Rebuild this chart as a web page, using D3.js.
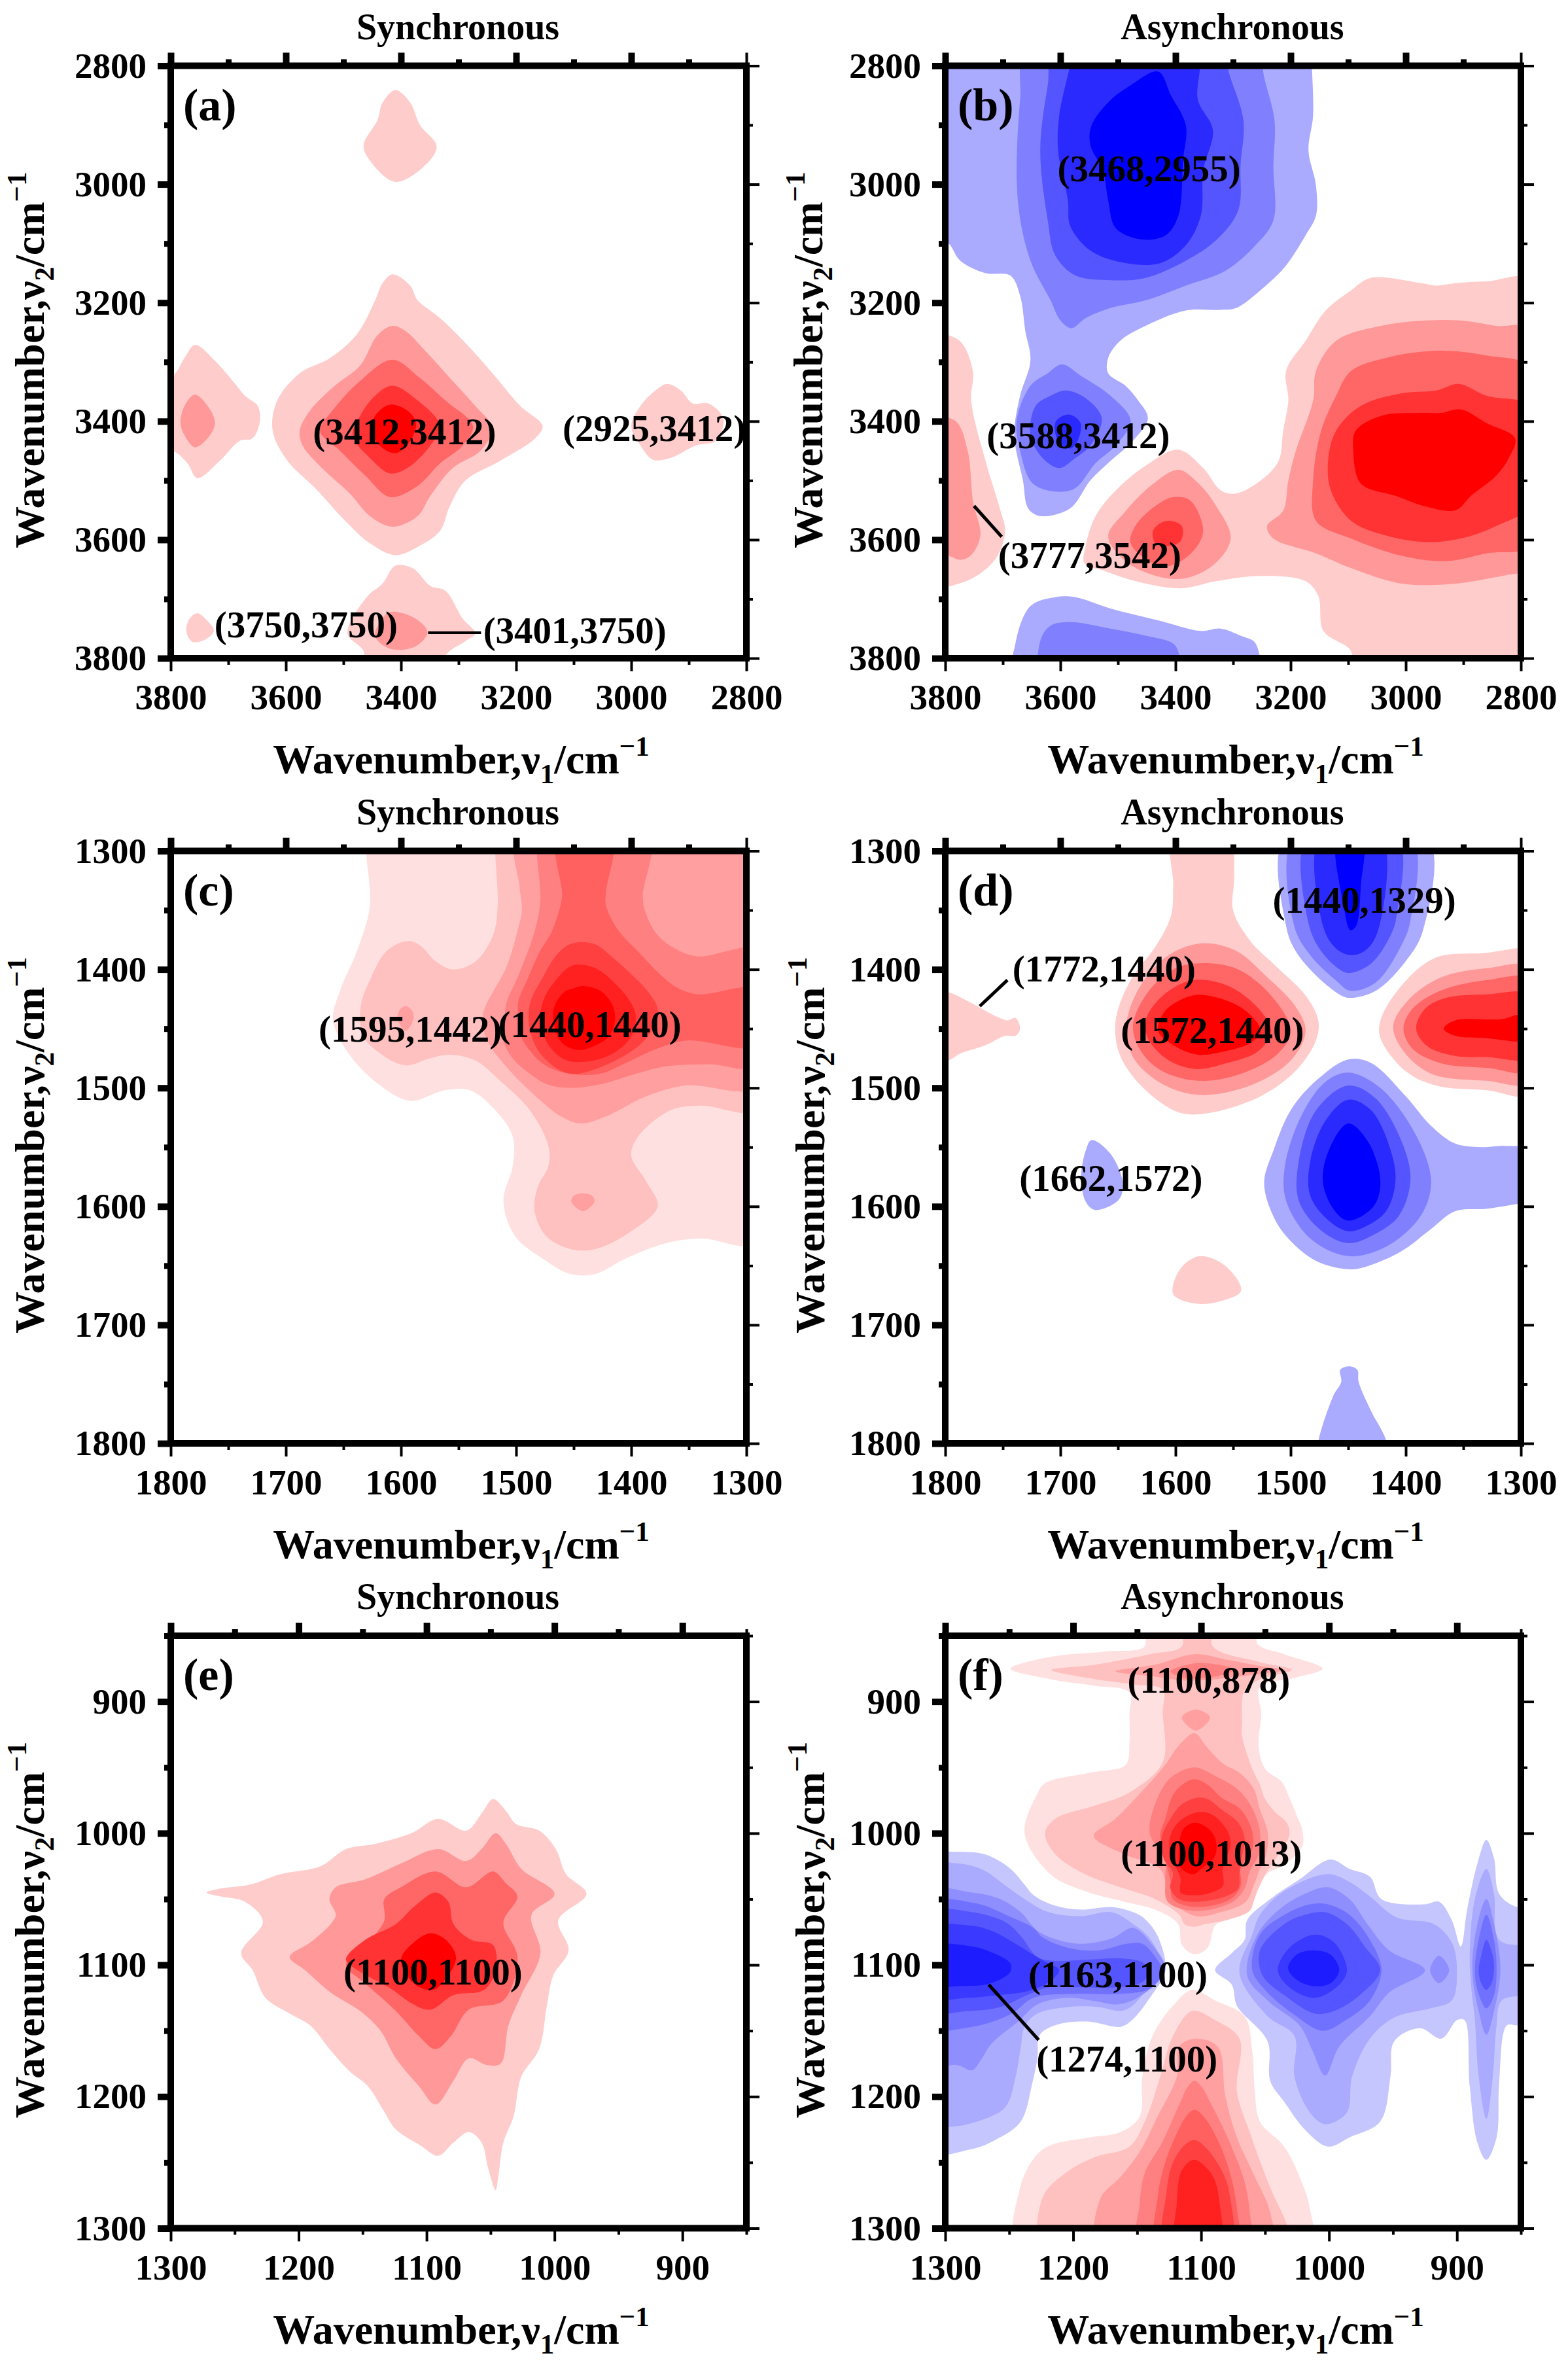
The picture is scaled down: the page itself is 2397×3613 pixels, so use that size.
<!DOCTYPE html>
<html><head><meta charset="utf-8">
<script src="https://cdn.jsdelivr.net/npm/d3@7"></script>
<style>html,body{margin:0;padding:0;background:#fff}svg{display:block}text{font-family:"Liberation Serif","Times New Roman",serif;font-weight:bold;fill:#000}</style>
</head><body><div id="c"></div>
<script>
// Contour outlines, in wavenumber units [v1, v2]; levels go from the outermost band inward.
const RED5=["#ffcccc","#ff9999","#ff6666","#ff3333","#ff0000"];
const BLUE5=["#aaaaff","#8080ff","#5555ff","#2a2aff","#0000ff"];
const RED8=["#ffe0e0","#ffc0c0","#ff9f9f","#ff8080","#ff6060","#ff4040","#ff2020","#ff0000"];
const BLUE8=["#c6c6ff","#aaaaff","#8e8eff","#7171ff","#5555ff","#3939ff","#1c1cff"];

// (a)
const a_top1=[[3410,2841],[3384,2862],[3367,2900],[3338,2936],[3358,2968],[3410,2996],[3454,2960],[3465,2934],[3441,2892],[3432,2862]];
const a_mid1=[[3415,3152],[3384,3171],[3371,3196],[3332,3226],[3288,3268],[3241,3319],[3193,3374],[3154,3408],[3167,3429],[3228,3467],[3288,3500],[3315,3543],[3332,3585],[3367,3610],[3410,3626],[3454,3606],[3497,3568],[3549,3513],[3597,3467],[3623,3416],[3615,3365],[3576,3319],[3523,3293],[3475,3251],[3445,3196],[3432,3167]];
const a_mid2=[[3415,3239],[3393,3247],[3358,3281],[3315,3327],[3271,3374],[3241,3412],[3262,3450],[3310,3479],[3349,3526],[3371,3560],[3415,3578],[3454,3560],[3489,3522],[3532,3484],[3571,3441],[3576,3416],[3558,3382],[3515,3340],[3471,3306],[3441,3255]];
const a_mid3=[[3415,3296],[3367,3327],[3323,3365],[3275,3408],[3293,3441],[3332,3471],[3371,3509],[3419,3528],[3462,3492],[3506,3450],[3541,3416],[3519,3382],[3471,3332]];
const a_mid4=[[3415,3340],[3371,3365],[3332,3408],[3349,3441],[3389,3479],[3419,3488],[3454,3462],[3484,3424],[3471,3391],[3445,3357]];
const a_mid5=[[3419,3372],[3389,3382],[3374,3403],[3384,3433],[3410,3454],[3441,3437],[3452,3408],[3441,3386]];
const a_left1=[[3758,3271],[3723,3298],[3689,3336],[3671,3357],[3649,3374],[3645,3399],[3658,3429],[3680,3433],[3715,3467],[3754,3496],[3771,3471],[3797,3450],[3840,3450],[3840,3323],[3797,3323],[3776,3293]];
const a_left2=[[3758,3355],[3736,3374],[3723,3403],[3736,3429],[3758,3444],[3776,3424],[3783,3403],[3776,3374]];
const a_right1=[[2938,3337],[2914,3348],[2893,3370],[2866,3370],[2840,3395],[2853,3433],[2888,3441],[2932,3462],[2962,3465],[2984,3441],[3000,3408],[2984,3374],[2958,3348]];
const a_bot1=[[3410,3644],[3380,3648],[3349,3678],[3323,3686],[3293,3733],[3271,3758],[3288,3771],[3323,3796],[3323,3830],[3462,3830],[3465,3788],[3493,3758],[3458,3695],[3432,3674]];
const a_bot2=[[3419,3722],[3375,3733],[3354,3756],[3375,3780],[3419,3784],[3445,3763],[3436,3738]];
const a_dot1=[[3754,3724],[3736,3737],[3725,3754],[3741,3769],[3763,3772],[3773,3754],[3767,3733]];

// (b)
const b_blue1=[[3826,2774],[3163,2774],[3163,2799],[3161,2884],[3169,2943],[3156,3002],[3156,3053],[3174,3086],[3208,3137],[3243,3171],[3295,3209],[3321,3212],[3382,3213],[3452,3239],[3496,3264],[3517,3293],[3517,3319],[3487,3340],[3465,3365],[3448,3395],[3474,3433],[3513,3467],[3548,3500],[3583,3547],[3635,3560],[3656,3547],[3665,3500],[3680,3424],[3670,3357],[3652,3298],[3661,3247],[3670,3188],[3687,3154],[3730,3150],[3774,3129],[3796,3099],[3826,3099]];
const b_blue2=[[3656,2774],[3248,2774],[3248,2808],[3228,2892],[3230,2968],[3230,3061],[3261,3103],[3313,3146],[3382,3171],[3452,3196],[3513,3209],[3556,3226],[3581,3243],[3600,3230],[3617,3196],[3652,3129],[3674,3027],[3670,2858]];
const b_blue3=[[3609,2774],[3313,2774],[3308,2808],[3282,2892],[3287,2968],[3291,3044],[3330,3095],[3382,3129],[3452,3158],[3513,3162],[3574,3154],[3609,3120],[3622,3061],[3635,2943],[3622,2833]];
const b_blue4=[[3578,2774],[3365,2774],[3361,2858],[3335,2909],[3352,2977],[3356,3053],[3382,3103],[3426,3133],[3487,3133],[3548,3112],[3583,3070],[3587,3027],[3604,2943],[3602,2884],[3583,2799]];
const b_blue5=[[3430,2810],[3408,2850],[3382,2901],[3387,2960],[3395,3053],[3417,3086],[3461,3093],[3504,3074],[3517,3027],[3526,2977],[3548,2934],[3546,2901],[3513,2858],[3478,2833]];
const b_lobe2=[[3597,3304],[3565,3323],[3513,3357],[3478,3399],[3504,3441],[3539,3471],[3574,3513],[3604,3519],[3648,3505],[3670,3450],[3676,3399],[3652,3340],[3622,3319]];
const b_lobe3=[[3591,3348],[3556,3361],[3528,3395],[3548,3441],[3574,3462],[3602,3479],[3631,3462],[3652,3424],[3643,3374],[3617,3357]];
const b_lobe4=[[3583,3389],[3565,3403],[3570,3433],[3583,3446],[3604,3433],[3609,3403],[3598,3392]];
const b_left1=[[3835,3260],[3778,3262],[3752,3315],[3755,3365],[3730,3467],[3704,3551],[3696,3585],[3709,3627],[3739,3657],[3783,3676],[3835,3678]];
const b_left2=[[3835,3399],[3783,3399],[3761,3450],[3752,3534],[3739,3593],[3756,3627],[3774,3634],[3796,3627],[3835,3627]];
const b_red1=[[2773,3164],[2860,3164],[2913,3167],[2947,3171],[2973,3167],[3061,3158],[3095,3179],[3139,3213],[3174,3264],[3208,3315],[3204,3365],[3213,3416],[3221,3467],[3252,3500],[3295,3522],[3321,3517],[3352,3479],[3395,3448],[3452,3475],[3504,3517],[3539,3560],[3556,3610],[3558,3640],[3522,3653],[3469,3670],[3391,3682],[3330,3670],[3252,3661],[3174,3670],[3152,3695],[3143,3754],[3095,3788],[3095,3830],[2773,3830]];
const b_red2=[[2773,3247],[2843,3239],[2904,3230],[2965,3230],[3043,3239],[3121,3264],[3156,3315],[3161,3365],[3191,3450],[3204,3500],[3213,3551],[3241,3577],[3230,3598],[3156,3623],[3095,3648],[3008,3674],[2913,3674],[2804,3657],[2773,3657]];
const b_red3=[[2773,3315],[2860,3289],[2947,3281],[3034,3293],[3095,3315],[3121,3357],[3147,3416],[3161,3500],[3156,3568],[3095,3598],[3008,3627],[2930,3636],[2860,3623],[2773,3606]];
const b_red4=[[2773,3378],[2860,3357],[2908,3337],[2947,3348],[3008,3353],[3078,3374],[3121,3416],[3135,3467],[3130,3517],[3095,3568],[3034,3593],[2965,3604],[2904,3598],[2843,3577],[2773,3534]];
const b_red5=[[2904,3380],[2860,3403],[2810,3429],[2821,3462],[2843,3492],[2887,3526],[2913,3550],[2965,3544],[3017,3526],[3078,3505],[3091,3450],[3087,3416],[3043,3391],[2973,3386],[2939,3386]];
const b_peak2=[[3395,3482],[3361,3504],[3330,3542],[3304,3597],[3330,3639],[3382,3665],[3434,3661],[3487,3636],[3517,3594],[3487,3552],[3443,3509]];
const b_peak3=[[3404,3528],[3374,3534],[3352,3585],[3369,3619],[3409,3644],[3439,3640],[3478,3606],[3470,3577],[3435,3543]];
const b_peak4=[[3409,3568],[3389,3577],[3391,3602],[3409,3610],[3435,3606],[3439,3585],[3426,3572]];
const b_bot1=[[3609,3697],[3574,3697],[3513,3716],[3426,3737],[3356,3754],[3322,3750],[3287,3762],[3261,3775],[3261,3830],[3678,3830],[3678,3775],[3652,3712]];
const b_bot2=[[3583,3739],[3513,3750],[3452,3762],[3400,3779],[3400,3830],[3630,3830],[3635,3771],[3617,3745]];

// (c)
const c_l1=[[1630,1285],[1285,1285],[1285,1629],[1340,1627],[1370,1631],[1405,1644],[1431,1657],[1453,1657],[1474,1646],[1501,1625],[1511,1595],[1503,1566],[1503,1541],[1518,1519],[1540,1502],[1562,1502],[1592,1511],[1618,1498],[1644,1473],[1659,1443],[1653,1418],[1638,1384],[1627,1346],[1630,1304]];
const c_l2=[[1518,1285],[1518,1304],[1516,1346],[1520,1371],[1535,1393],[1555,1400],[1570,1393],[1583,1380],[1594,1376],[1612,1384],[1627,1409],[1635,1431],[1633,1456],[1618,1471],[1596,1481],[1575,1475],[1557,1472],[1535,1477],[1514,1494],[1488,1519],[1472,1549],[1472,1566],[1481,1583],[1484,1604],[1474,1625],[1453,1636],[1431,1636],[1400,1621],[1377,1600],[1387,1579],[1400,1557],[1394,1541],[1366,1519],[1340,1515],[1285,1517],[1285,1285]];
const c_dotA=[[1596,1431],[1591,1434],[1589,1441],[1596,1452],[1603,1441],[1601,1434]];
const c_dotB=[[1442,1589],[1434,1591],[1432,1596],[1442,1604],[1452,1596],[1450,1591]];
const c_l3=[[1498,1285],[1497,1330],[1495,1350],[1499,1368],[1508,1397],[1529,1439],[1525,1460],[1505,1486],[1483,1507],[1461,1524],[1444,1530],[1422,1524],[1387,1507],[1353,1498],[1285,1497],[1285,1285]];
const c_l4=[[1482,1285],[1482,1302],[1479,1342],[1484,1368],[1498,1405],[1508,1427],[1510,1440],[1511,1460],[1503,1475],[1488,1488],[1473,1497],[1452,1500],[1427,1497],[1399,1489],[1371,1482],[1333,1480],[1285,1481],[1285,1384],[1342,1389],[1361,1383],[1378,1370],[1388,1351],[1390,1338],[1385,1285]];
const c_l5=[[1464,1285],[1460,1337],[1462,1348],[1469,1368],[1480,1386],[1490,1408],[1498,1427],[1498,1441],[1496,1456],[1486,1471],[1473,1482],[1454,1488],[1427,1488],[1405,1479],[1378,1467],[1352,1460],[1285,1464],[1285,1417],[1342,1421],[1359,1416],[1374,1405],[1393,1386],[1412,1366],[1422,1346],[1422,1335],[1417,1285]];
const c_l6=[[1446,1377],[1431,1379],[1416,1390],[1399,1405],[1386,1418],[1377,1434],[1382,1451],[1393,1464],[1416,1478],[1446,1488],[1460,1486],[1479,1471],[1488,1451],[1488,1429],[1477,1407],[1465,1388],[1456,1380]];
const c_l7=[[1444,1396],[1431,1399],[1416,1410],[1401,1427],[1396,1440],[1401,1458],[1418,1472],[1441,1478],[1458,1476],[1473,1462],[1479,1441],[1475,1423],[1462,1405],[1452,1397]];
const c_l8=[[1443,1414],[1427,1418],[1417,1429],[1414,1441],[1419,1456],[1433,1465],[1446,1468],[1460,1462],[1467,1447],[1467,1432],[1458,1419],[1450,1416]];

// (d)
const d_top1=[[1602,1287],[1602,1329],[1604,1355],[1617,1380],[1639,1409],[1652,1443],[1648,1473],[1626,1502],[1596,1521],[1570,1521],[1526,1507],[1496,1486],[1478,1460],[1476,1443],[1487,1422],[1513,1397],[1535,1376],[1550,1350],[1549,1321],[1554,1287]];
const d_red2=[[1578,1378],[1548,1384],[1522,1405],[1496,1431],[1487,1452],[1500,1477],[1535,1498],[1578,1506],[1609,1498],[1635,1477],[1643,1452],[1635,1422],[1609,1390]];
const d_red3=[[1583,1395],[1548,1399],[1517,1422],[1500,1452],[1511,1471],[1543,1488],[1580,1494],[1613,1485],[1630,1469],[1637,1448],[1626,1422],[1604,1401]];
const d_red4=[[1585,1409],[1554,1414],[1528,1433],[1517,1452],[1528,1469],[1559,1480],[1583,1484],[1607,1476],[1624,1458],[1626,1443],[1611,1422]];
const d_red5=[[1585,1422],[1563,1424],[1539,1435],[1526,1452],[1535,1462],[1557,1469],[1580,1472],[1600,1465],[1615,1452],[1609,1435]];
const d_left1=[[1817,1418],[1798,1419],[1778,1428],[1757,1439],[1746,1443],[1739,1441],[1735,1450],[1739,1456],[1748,1456],[1765,1464],[1787,1471],[1798,1477],[1817,1477]];
const d_up1=[[1504,1287],[1504,1363],[1496,1384],[1478,1405],[1456,1422],[1448,1424],[1426,1418],[1400,1393],[1385,1367],[1382,1287]];
const d_up2=[[1496,1287],[1497,1363],[1483,1388],[1461,1409],[1448,1418],[1426,1411],[1404,1380],[1396,1359],[1396,1287]];
const d_up3=[[1485,1287],[1485,1359],[1474,1384],[1456,1401],[1448,1403],[1430,1395],[1413,1371],[1408,1355],[1408,1287]];
const d_up4=[[1474,1287],[1472,1363],[1461,1382],[1448,1388],[1435,1384],[1424,1367],[1422,1287]];
const d_up5=[[1459,1287],[1454,1346],[1448,1367],[1443,1363],[1439,1329],[1438,1287]];
const d_right1=[[1287,1382],[1302,1382],[1330,1386],[1374,1390],[1404,1414],[1422,1443],[1422,1458],[1400,1486],[1374,1498],[1330,1502],[1287,1505]];
const d_right2=[[1287,1399],[1330,1399],[1370,1407],[1398,1426],[1411,1448],[1402,1469],[1378,1488],[1330,1494],[1287,1495]];
const d_right3=[[1287,1409],[1330,1409],[1370,1418],[1394,1433],[1402,1450],[1394,1467],[1370,1479],[1330,1483],[1287,1485]];
const d_right4=[[1287,1422],[1330,1421],[1365,1424],[1383,1433],[1391,1450],[1381,1465],[1357,1473],[1330,1474],[1287,1474]];
const d_right5=[[1287,1437],[1302,1438],[1317,1442],[1357,1443],[1367,1450],[1357,1456],[1330,1458],[1302,1461],[1287,1461]];
const d_low1=[[1450,1476],[1430,1479],[1400,1507],[1378,1532],[1357,1547],[1335,1550],[1313,1549],[1287,1553],[1287,1595],[1304,1598],[1330,1602],[1357,1604],[1378,1619],[1404,1638],[1435,1651],[1450,1653],[1478,1646],[1504,1625],[1517,1604],[1523,1579],[1515,1553],[1500,1519],[1478,1494]];
const d_low2=[[1450,1487],[1422,1500],[1391,1540],[1378,1579],[1387,1608],[1417,1634],[1450,1642],[1483,1627],[1504,1595],[1505,1566],[1491,1524],[1470,1495]];
const d_low3=[[1450,1498],[1426,1509],[1402,1549],[1396,1579],[1406,1608],[1426,1623],[1450,1631],[1474,1620],[1493,1595],[1493,1562],[1478,1519]];
const d_low4=[[1450,1510],[1430,1519],[1413,1553],[1409,1579],[1417,1604],[1435,1617],[1450,1621],[1467,1612],[1483,1591],[1483,1562],[1470,1528]];
const d_low5=[[1450,1530],[1433,1545],[1422,1579],[1428,1600],[1450,1612],[1463,1602],[1472,1579],[1467,1553]];
const d_small=[[1673,1544],[1657,1555],[1646,1579],[1649,1594],[1670,1603],[1678,1596],[1682,1575],[1678,1553]];
const d_spot=[[1579,1642],[1557,1650],[1543,1671],[1561,1680],[1583,1682],[1602,1674],[1596,1653]];
const d_bot=[[1449,1735],[1442,1738],[1441,1748],[1430,1773],[1417,1798],[1417,1815],[1478,1815],[1476,1798],[1463,1760],[1456,1748],[1457,1738]];

// (e)
const e_l1=[[1048,974],[1038,983],[1030,993],[1012,998],[999,1012],[991,1031],[975,1046],[997,1066],[989,1089],[1001,1108],[1006,1131],[1012,1164],[1026,1185],[1032,1215],[1040,1235],[1044,1261],[1046,1271],[1052,1254],[1057,1235],[1067,1227],[1079,1235],[1091,1245],[1105,1237],[1124,1225],[1134,1210],[1146,1192],[1160,1181],[1175,1165],[1191,1146],[1207,1137],[1226,1125],[1236,1104],[1245,1091],[1228,1067],[1242,1052],[1261,1048],[1272,1045],[1261,1042],[1238,1039],[1214,1031],[1183,1025],[1163,1012],[1140,1008],[1112,1000],[1091,989],[1069,998],[1057,985]];
const e_l2=[[1046,1000],[1038,1008],[1026,1027],[1000,1046],[1018,1062],[1011,1091],[1026,1123],[1036,1146],[1042,1175],[1053,1176],[1067,1171],[1079,1188],[1093,1206],[1106,1192],[1124,1171],[1136,1150],[1152,1135],[1175,1121],[1195,1104],[1207,1094],[1191,1083],[1175,1069],[1171,1062],[1176,1050],[1171,1041],[1148,1035],[1120,1023],[1091,1012],[1069,1021],[1057,1012]];
const e_l3=[[1093,1029],[1069,1041],[1048,1029],[1038,1038],[1029,1048],[1040,1068],[1029,1094],[1040,1127],[1067,1134],[1081,1154],[1093,1164],[1106,1154],[1124,1135],[1148,1114],[1163,1100],[1144,1081],[1133,1066],[1133,1050],[1120,1041]];
const e_l4=[[1093,1045],[1083,1052],[1079,1069],[1065,1081],[1048,1085],[1046,1104],[1055,1119],[1079,1123],[1097,1134],[1112,1129],[1128,1118],[1154,1104],[1163,1096],[1148,1081],[1124,1069],[1110,1056]];
const e_l5=[[1097,1076],[1085,1081],[1077,1094],[1083,1108],[1095,1119],[1110,1114],[1120,1096],[1110,1083]];

// (f) red
const f_top1=[[1144,839],[1056,839],[1056,856],[1035,864],[1005,875],[1027,882],[1054,889],[1053,910],[1055,934],[1050,951],[1037,961],[1031,973],[1025,987],[1021,997],[1021,1010],[1035,1024],[1049,1031],[1055,1042],[1064,1055],[1080,1065],[1089,1070],[1095,1087],[1105,1092],[1115,1085],[1118,1069],[1136,1058],[1160,1052],[1191,1044],[1218,1031],[1238,1000],[1228,970],[1222,962],[1187,954],[1159,948],[1156,931],[1156,910],[1156,893],[1183,888],[1218,883],[1249,875],[1218,866],[1175,862],[1144,858]];
const f_top2=[[1115,839],[1091,839],[1091,858],[1054,870],[1029,876],[1054,883],[1066,891],[1068,916],[1068,926],[1060,951],[1054,963],[1050,974],[1042,984],[1033,992],[1031,1001],[1040,1017],[1047,1027],[1054,1039],[1059,1052],[1062,1059],[1080,1066],[1097,1069],[1105,1071],[1113,1069],[1117,1062],[1136,1050],[1160,1042],[1191,1031],[1214,1016],[1222,1000],[1214,989],[1183,979],[1156,969],[1130,946],[1130,908],[1130,891],[1152,887],[1183,883],[1217,876],[1183,872],[1140,864],[1115,858]];
const f_strip3=[[1105,864],[1081,868],[1054,873],[1035,876],[1062,880],[1089,883],[1113,884],[1136,881],[1167,877],[1136,872]];
const f_strip4=[[1105,871],[1081,873],[1074,876],[1089,881],[1113,882],[1124,877]];
const f_diamond=[[1115,912],[1104,906],[1093,912],[1104,922]];
const f_top3=[[1105,924],[1096,934],[1083,947],[1070,954],[1059,966],[1054,982],[1048,999],[1049,1016],[1054,1027],[1059,1040],[1065,1052],[1085,1060],[1104,1063],[1124,1050],[1132,1027],[1160,1016],[1184,1002],[1167,989],[1148,970],[1128,948],[1117,933]];
const f_top4=[[1105,950],[1090,956],[1071,967],[1060,981],[1054,999],[1055,1016],[1062,1029],[1066,1042],[1075,1052],[1104,1059],[1126,1052],[1128,1034],[1128,1018],[1140,1001],[1136,978],[1124,958]];
const f_top5=[[1105,959],[1095,963],[1084,973],[1069,982],[1060,999],[1060,1012],[1069,1026],[1069,1040],[1077,1050],[1104,1056],[1122,1050],[1124,1036],[1130,1012],[1132,1001],[1128,989],[1122,971],[1113,962]];
const f_top6=[[1103,973],[1095,974],[1084,982],[1071,992],[1066,1004],[1069,1022],[1070,1029],[1071,1042],[1081,1048],[1103,1052],[1117,1050],[1124,1042],[1122,1030],[1129,1020],[1131,1004],[1124,989],[1115,978]];
const f_top7=[[1103,984],[1091,986],[1079,999],[1077,1009],[1083,1026],[1083,1040],[1092,1045],[1105,1047],[1116,1045],[1116,1035],[1118,1029],[1124,1017],[1124,1002],[1117,991]];
const f_top8=[[1105,992],[1095,996],[1089,1004],[1089,1017],[1100,1027],[1106,1031],[1116,1026],[1117,1009],[1114,997]];
const f_bot1=[[1242,1319],[1242,1271],[1230,1246],[1218,1237],[1187,1231],[1163,1227],[1148,1215],[1146,1185],[1138,1154],[1122,1131],[1107,1119],[1089,1127],[1066,1139],[1060,1165],[1058,1196],[1054,1219],[1035,1238],[1023,1261],[1015,1285],[1015,1319]];
const f_bot2=[[1222,1319],[1224,1277],[1206,1258],[1183,1246],[1156,1238],[1144,1219],[1132,1185],[1122,1154],[1107,1135],[1089,1142],[1070,1156],[1072,1196],[1062,1227],[1046,1269],[1032,1300],[1029,1319]];
const f_bot3=[[1179,1319],[1179,1278],[1163,1261],[1148,1242],[1134,1215],[1119,1185],[1117,1162],[1105,1156],[1087,1162],[1081,1200],[1072,1231],[1058,1261],[1046,1288],[1046,1319]];
const f_bot4=[[1148,1319],[1148,1281],[1144,1258],[1130,1234],[1117,1206],[1110,1192],[1105,1188],[1100,1192],[1092,1206],[1078,1234],[1066,1265],[1062,1288],[1062,1319]];
const f_bot5=[[1134,1319],[1134,1277],[1128,1250],[1118,1226],[1110,1213],[1105,1210],[1099,1214],[1089,1229],[1078,1256],[1072,1285],[1072,1319]];
const f_bot6=[[1128,1319],[1127,1273],[1122,1250],[1112,1236],[1105,1233],[1097,1238],[1084,1256],[1078,1273],[1078,1319]];
const f_bot7=[[1119,1319],[1119,1281],[1116,1258],[1110,1250],[1105,1248],[1098,1252],[1090,1262],[1085,1285],[1085,1319]];
// (f) blue, left arm
const f_w1=[[1320,1014],[1296,1014],[1269,1016],[1249,1027],[1238,1039],[1231,1047],[1214,1055],[1194,1058],[1170,1056],[1153,1060],[1144,1065],[1134,1078],[1128,1104],[1140,1125],[1154,1142],[1163,1147],[1189,1143],[1211,1145],[1226,1153],[1228,1171],[1232,1190],[1241,1219],[1261,1233],[1280,1240],[1320,1241]];
const f_w2=[[1320,1025],[1290,1023],[1270,1028],[1254,1039],[1238,1050],[1219,1060],[1194,1063],[1170,1060],[1153,1069],[1140,1080],[1130,1104],[1145,1122],[1155,1132],[1163,1135],[1180,1132],[1204,1132],[1228,1137],[1238,1147],[1241,1163],[1245,1185],[1253,1208],[1275,1219],[1296,1223],[1320,1222]];
const f_w3=[[1320,1045],[1279,1045],[1257,1050],[1241,1060],[1228,1074],[1212,1081],[1194,1084],[1170,1080],[1153,1072],[1138,1085],[1128,1104],[1148,1124],[1165,1130],[1180,1128],[1204,1125],[1228,1130],[1243,1143],[1264,1160],[1272,1172],[1279,1180],[1291,1176],[1320,1178]];
const f_w4=[[1320,1054],[1277,1053],[1248,1064],[1231,1072],[1224,1079],[1204,1087],[1180,1089],[1158,1084],[1146,1084],[1135,1095],[1130,1105],[1140,1118],[1163,1122],[1197,1122],[1231,1125],[1248,1137],[1279,1147],[1320,1146]];
const f_w5=[[1320,1061],[1279,1060],[1252,1068],[1241,1078],[1228,1094],[1214,1097],[1189,1096],[1163,1095],[1146,1098],[1140,1105],[1146,1113],[1166,1117],[1194,1117],[1219,1117],[1236,1123],[1257,1132],[1282,1135],[1320,1134]];
const f_w6=[[1320,1073],[1281,1070],[1264,1074],[1245,1084],[1235,1090],[1223,1097],[1211,1104],[1219,1113],[1236,1120],[1259,1123],[1282,1125],[1320,1124]];
const f_w7=[[1320,1087],[1279,1086],[1260,1092],[1249,1099],[1249,1105],[1255,1110],[1269,1115],[1289,1116],[1320,1116]];
// (f) blue, right arm and the column near 877
const f_e1=[[999,1020],[984,1027],[968,1033],[959,1050],[925,1054],[914,1052],[904,1066],[897,1086],[892,1058],[884,1023],[877,1005],[871,1019],[867,1046],[853,1056],[835,1056],[835,1146],[853,1146],[861,1146],[867,1190],[869,1231],[877,1248],[884,1235],[890,1192],[894,1142],[900,1142],[912,1156],[929,1148],[949,1158],[952,1185],[960,1219],[984,1231],[1001,1238],[1019,1225],[1035,1204],[1046,1188],[1048,1158],[1072,1131],[1076,1115],[1089,1104],[1076,1091],[1066,1081],[1064,1066],[1046,1050],[1023,1035]];
const f_e2=[[1001,1031],[984,1037],[968,1048],[947,1064],[918,1069],[904,1083],[900,1104],[904,1127],[921,1133],[949,1140],[968,1156],[982,1185],[986,1212],[1003,1221],[1015,1212],[1027,1185],[1027,1154],[1048,1139],[1070,1106],[1060,1077],[1054,1062],[1035,1044]];
const f_e3=[[1001,1041],[984,1050],[970,1069],[953,1089],[925,1104],[953,1121],[968,1139],[992,1162],[1003,1184],[1013,1165],[1023,1146],[1048,1127],[1064,1108],[1056,1077],[1039,1058],[1019,1046]];
const f_e4=[[1001,1054],[984,1062],[968,1081],[959,1104],[968,1127],[987,1142],[1005,1150],[1027,1138],[1050,1119],[1060,1104],[1054,1077],[1035,1062],[1015,1054]];
const f_e5=[[1003,1060],[986,1069],[972,1086],[960,1104],[976,1123],[996,1135],[1011,1137],[1035,1123],[1052,1108],[1054,1089],[1035,1069],[1019,1062]];
const f_e6=[[1011,1077],[996,1083],[986,1104],[992,1115],[1011,1125],[1031,1117],[1040,1104],[1031,1087]];
const f_e7=[[1013,1089],[999,1092],[992,1104],[999,1114],[1013,1116],[1027,1110],[1032,1102],[1025,1092]];
const f_spot=[[914,1093],[906,1104],[914,1114],[921,1104]];
const f_col2=[[877,1027],[871,1046],[867,1081],[839,1089],[839,1120],[865,1127],[869,1146],[872,1185],[877,1217],[883,1185],[886,1142],[889,1115],[890,1092],[886,1050]];
const f_col3=[[877,1050],[871,1069],[866,1104],[871,1135],[877,1153],[883,1135],[888,1104],[884,1069]];
const f_col4=[[877,1062],[871,1081],[869,1104],[871,1123],[877,1133],[884,1119],[886,1104],[883,1081]];
const f_col5=[[877,1081],[872,1093],[871,1104],[873,1114],[877,1119],[881,1114],[883,1104],[881,1093]];

// Text labels: [text, v1 centre, v2 baseline]
const a_labels=[["(3412,3412)",3394,3439],["(2925,3412)",2960,3433],["(3750,3750)",3565,3765],["(3401,3750)",3098,3775]];
const b_labels=[["(3468,2955)",3446,2995],["(3588,3412)",3569,3446],["(3777,3542)",3549,3648]];
const c_labels=[["(1595,1442)",1592,1461],["(1440,1440)",1436,1457]];
const d_labels=[["(1772,1440)",1662,1410],["(1440,1329)",1436,1352],["(1572,1440)",1568,1462],["(1662,1572)",1656,1587]];
const e_labels=[["(1100,1100)",1095,1115]];
const f_labels=[["(1100,878)",1094,893],["(1100,1013)",1092,1025],["(1163,1100)",1165,1117],["(1274,1100)",1158,1181]];
// Leader lines: [v1a, v2a, v1b, v2b]
const a_leaders=[[3353,3757,3261,3757]];
const b_leaders=[[3750,3543,3702,3595]];
const d_leaders=[[1770,1431,1746,1409]];
const f_leaders=[[1266,1115,1227,1157]];
const noLeaders=[];

const range3=[3800,2800], rangeY3=[2800,3800], range1=[1800,1300], rangeY1=[1300,1800], rangeX0=[1300,850], rangeY0=[850,1300];
const major3=[2800,3000,3200,3400,3600,3800], minor3=[2900,3100,3300,3500,3700];
const major1=[1300,1400,1500,1600,1700,1800], minor1=[1350,1450,1550,1650,1750];
const major0=[900,1000,1100,1200,1300], minor0=[850,950,1050,1150,1250];

const panels=[
 {tag:"(a)",title:"Synchronous",col:0,row:0,xd:range3,yd:rangeY3,maj:major3,min:minor3,labels:a_labels,leaders:a_leaders,lw:4,
  layers:[[a_top1,RED5,0],[a_mid1,RED5,0],[a_mid2,RED5,1],[a_mid3,RED5,2],[a_mid4,RED5,3],[a_mid5,RED5,4],[a_left1,RED5,0],[a_left2,RED5,1],[a_right1,RED5,0],[a_bot1,RED5,0],[a_bot2,RED5,1],[a_dot1,RED5,0]]},
 {tag:"(b)",title:"Asynchronous",col:1,row:0,xd:range3,yd:rangeY3,maj:major3,min:minor3,labels:b_labels,leaders:b_leaders,lw:5,
  layers:[[b_blue1,BLUE5,0],[b_blue2,BLUE5,1],[b_blue3,BLUE5,2],[b_blue4,BLUE5,3],[b_blue5,BLUE5,4],[b_lobe2,BLUE5,1],[b_lobe3,BLUE5,2],[b_lobe4,BLUE5,3],[b_left1,RED5,0],[b_left2,RED5,1],[b_red1,RED5,0],[b_red2,RED5,1],[b_red3,RED5,2],[b_red4,RED5,3],[b_red5,RED5,4],[b_peak2,RED5,1],[b_peak3,RED5,2],[b_peak4,RED5,3],[b_bot1,BLUE5,0],[b_bot2,BLUE5,1]]},
 {tag:"(c)",title:"Synchronous",col:0,row:1,xd:range1,yd:rangeY1,maj:major1,min:minor1,labels:c_labels,leaders:noLeaders,lw:4,
  layers:[[c_l1,RED8,0],[c_l2,RED8,1],[c_dotA,RED8,2],[c_dotB,RED8,2],[c_l3,RED8,2],[c_l4,RED8,3],[c_l5,RED8,4],[c_l6,RED8,5],[c_l7,RED8,6],[c_l8,RED8,7]]},
 {tag:"(d)",title:"Asynchronous",col:1,row:1,xd:range1,yd:rangeY1,maj:major1,min:minor1,labels:d_labels,leaders:d_leaders,lw:5,
  layers:[[d_top1,RED5,0],[d_red2,RED5,1],[d_red3,RED5,2],[d_red4,RED5,3],[d_red5,RED5,4],[d_left1,RED5,0],[d_up1,BLUE5,0],[d_up2,BLUE5,1],[d_up3,BLUE5,2],[d_up4,BLUE5,3],[d_up5,BLUE5,4],[d_right1,RED5,0],[d_right2,RED5,1],[d_right3,RED5,2],[d_right4,RED5,3],[d_right5,RED5,4],[d_low1,BLUE5,0],[d_low2,BLUE5,1],[d_low3,BLUE5,2],[d_low4,BLUE5,3],[d_low5,BLUE5,4],[d_small,BLUE5,0],[d_spot,RED5,0],[d_bot,BLUE5,0]]},
 {tag:"(e)",title:"Synchronous",col:0,row:2,xd:rangeX0,yd:rangeY0,maj:major0,min:minor0,labels:e_labels,leaders:noLeaders,lw:4,
  layers:[[e_l1,RED5,0],[e_l2,RED5,1],[e_l3,RED5,2],[e_l4,RED5,3],[e_l5,RED5,4]]},
 {tag:"(f)",title:"Asynchronous",col:1,row:2,xd:rangeX0,yd:rangeY0,maj:major0,min:minor0,labels:f_labels,leaders:f_leaders,lw:5,
  layers:[[f_top1,RED8,0],[f_top2,RED8,1],[f_strip3,RED8,2],[f_strip4,RED8,3],[f_diamond,RED8,2],[f_top3,RED8,2],[f_top4,RED8,3],[f_top5,RED8,4],[f_top6,RED8,5],[f_top7,RED8,6],[f_top8,RED8,7],[f_bot1,RED8,0],[f_bot2,RED8,1],[f_bot3,RED8,2],[f_bot4,RED8,3],[f_bot5,RED8,4],[f_bot6,RED8,5],[f_bot7,RED8,6],[f_w1,BLUE8,0],[f_w2,BLUE8,1],[f_w3,BLUE8,2],[f_w4,BLUE8,3],[f_w5,BLUE8,4],[f_w6,BLUE8,5],[f_w7,BLUE8,6],[f_e1,BLUE8,0],[f_e2,BLUE8,1],[f_e3,BLUE8,2],[f_e4,BLUE8,3],[f_e5,BLUE8,4],[f_e6,BLUE8,5],[f_e7,BLUE8,6],[f_spot,BLUE8,2],[f_col2,BLUE8,1],[f_col3,BLUE8,2],[f_col4,BLUE8,3],[f_col5,BLUE8,4]]}
];

const W=2397,H=3613;
const LEFT=[261,1445], TOP=[100.5,1300.5,2500], PW=880, PH=905.5;
const YLABEL_OFFSET=[[194,194,194],[188,185,185]];
const svg=d3.select("#c").append("svg").attr("width",W).attr("height",H).attr("viewBox",[0,0,W,H]);
const fmt=d3.format("d");

function styleAxis(g,w,fs){
  g.select(".domain").remove();
  g.selectAll("line").attr("stroke","#000").attr("stroke-width",w);
  g.selectAll("text").attr("font-size",fs);
}
panels.forEach((p,i)=>{
  const L=LEFT[p.col],T=TOP[p.row];
  const x=d3.scaleLinear().domain(p.xd).range([L,L+PW]);
  const y=d3.scaleLinear().domain(p.yd).range([T,T+PH]);
  const g=svg.append("g");
  const id="clip"+i;
  g.append("clipPath").attr("id",id).append("rect").attr("x",L).attr("y",T).attr("width",PW).attr("height",PH);
  const line=d3.line().x(d=>x(d[0])).y(d=>y(d[1])).curve(d3.curveCatmullRomClosed.alpha(0.5));
  g.append("g").attr("clip-path",`url(#${id})`).selectAll("path").data(p.layers).join("path")
    .attr("d",d=>line(d[0])).attr("fill",d=>d[1][d[2]]);
  // ticks: left and top thick, right and bottom thin, last top tick thin
  const xEnd=Math.min(...p.xd);
  const majT=p.maj.filter(v=>v!==xEnd);
  const minT=p.min.filter(v=>v!==xEnd);
  g.append("g").attr("transform",`translate(${L},0)`).call(d3.axisLeft(y).tickValues(p.maj).tickSize(20).tickPadding(17).tickFormat(fmt)).call(a=>styleAxis(a,10,55));
  g.append("g").attr("transform",`translate(${L},0)`).call(d3.axisLeft(y).tickValues(p.min).tickSize(10).tickFormat("")).call(a=>styleAxis(a,9,0));
  g.append("g").attr("transform",`translate(0,${T})`).call(d3.axisTop(x).tickValues(majT).tickSize(20).tickFormat("")).call(a=>styleAxis(a,10,0));
  g.append("g").attr("transform",`translate(0,${T})`).call(d3.axisTop(x).tickValues(minT).tickSize(10).tickFormat("")).call(a=>styleAxis(a,9,0));
  g.append("g").attr("transform",`translate(0,${T})`).call(d3.axisTop(x).tickValues([xEnd]).tickSize(p.maj.includes(xEnd)?20:10).tickFormat("")).call(a=>styleAxis(a,4,0));
  g.append("g").attr("transform",`translate(0,${T+PH})`).call(d3.axisBottom(x).tickValues(p.maj).tickSize(20).tickPadding(19).tickFormat(fmt)).call(a=>styleAxis(a,4,55));
  g.append("g").attr("transform",`translate(0,${T+PH})`).call(d3.axisBottom(x).tickValues(p.min).tickSize(10).tickFormat("")).call(a=>styleAxis(a,4,0));
  g.append("g").attr("transform",`translate(${L+PW},0)`).call(d3.axisRight(y).tickValues(p.maj).tickSize(20).tickFormat("")).call(a=>styleAxis(a,4,0));
  g.append("g").attr("transform",`translate(${L+PW},0)`).call(d3.axisRight(y).tickValues(p.min).tickSize(10).tickFormat("")).call(a=>styleAxis(a,4,0));
  // frame
  g.append("rect").attr("x",L).attr("y",T).attr("width",PW).attr("height",PH).attr("fill","none").attr("stroke","#000").attr("stroke-width",10);
  // leaders
  g.selectAll("line.lead").data(p.leaders).join("line").attr("class","lead")
    .attr("x1",d=>x(d[0])).attr("y1",d=>y(d[1])).attr("x2",d=>x(d[2])).attr("y2",d=>y(d[3])).attr("stroke","#000").attr("stroke-width",p.lw);
  // peak labels
  g.selectAll("text.peak").data(p.labels).join("text").attr("class","peak")
    .attr("x",d=>x(d[1])).attr("y",d=>y(d[2])).attr("text-anchor","middle").attr("font-size",57).text(d=>d[0]);
  // tag
  g.append("text").attr("x",L+19).attr("y",T+83).attr("font-size",70).text(p.tag);
  // title
  g.append("text").attr("x",L+PW/2-1).attr("y",T-41).attr("text-anchor","middle").attr("font-size",56).text(p.title);
  // axis titles
  const lab=(sel,sub)=>{
    sel.append("tspan").text("Wavenumber,ν");
    sel.append("tspan").attr("font-size",43).attr("dy",15).text(sub);
    sel.append("tspan").attr("dy",-15).text("/cm");
    sel.append("tspan").attr("font-size",43).attr("dy",-27).text("−1");
  };
  const xl=g.append("text").attr("x",L+PW/2+4).attr("y",T+PH+176).attr("text-anchor","middle").attr("font-size",64);
  lab(xl,"1");
  const yl=g.append("text").attr("transform",`translate(${L-YLABEL_OFFSET[p.col][p.row]},${T+PH/2-3}) rotate(-90)`).attr("text-anchor","middle").attr("font-size",64);
  lab(yl,"2");
});
</script></body></html>
